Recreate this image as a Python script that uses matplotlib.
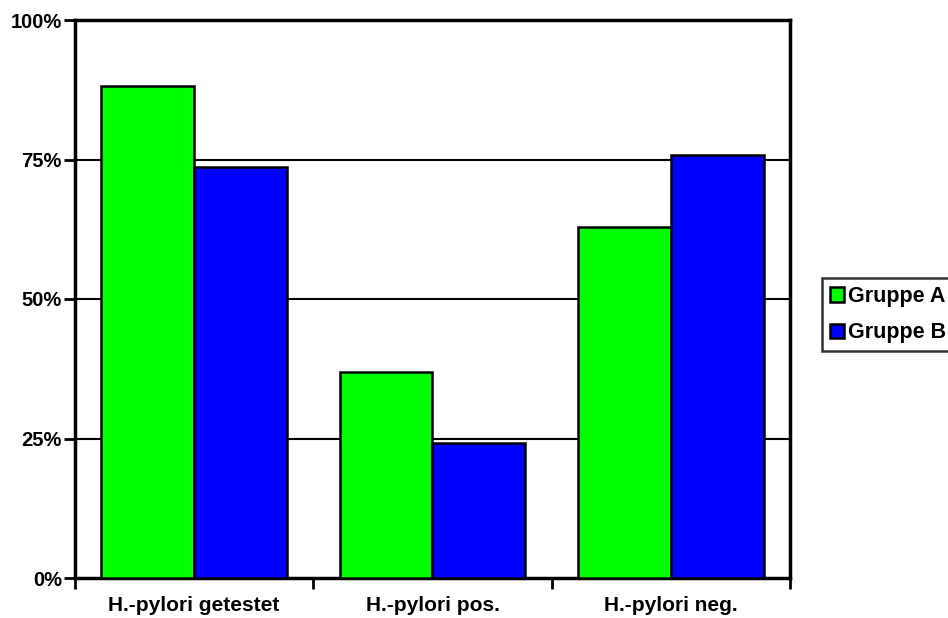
import matplotlib
matplotlib.use("Agg")
import matplotlib.pyplot as plt
import numpy as np
from matplotlib.ticker import PercentFormatter

categories = ["H.-pylori getestet", "H.-pylori pos.", "H.-pylori neg."]
gruppe_a = [88.2, 36.9, 62.9]
gruppe_b = [73.7, 24.2, 75.8]
series_names = ["Gruppe A", "Gruppe B"]
y_ticks = [0, 25, 50, 75, 100]

plt.rcParams["font.family"] = ["Liberation Sans", "DejaVu Sans"]
plt.rcParams["font.weight"] = "bold"

W, H = 948, 618
fig = plt.figure(figsize=(W / 100, H / 100), dpi=100)
ax = fig.add_axes([75 / W, 1 - 578 / H, (790 - 75) / W, (578 - 20) / H])

x = np.arange(len(categories))
bw = 0.39
ax.bar(x - bw / 2, gruppe_a, bw, color="#00ff00", edgecolor="black", linewidth=1.8,
       label=series_names[0], zorder=3)
ax.bar(x + bw / 2, gruppe_b, bw, color="#0000ff", edgecolor="black", linewidth=1.8,
       label=series_names[1], zorder=3)

ax.set_xlim(-0.5, len(categories) - 0.5)
ax.set_ylim(0, 100)
ax.set_yticks(y_ticks)
ax.yaxis.set_major_formatter(PercentFormatter(decimals=0))
for t in y_ticks[1:-1]:
    ax.axhline(t, color="black", linewidth=1.5, zorder=1)

# category labels centred, tick marks at category boundaries
ax.set_xticks(x)
ax.set_xticklabels(categories, fontsize=15, fontweight="bold")
ax.tick_params(axis="x", which="major", length=0, pad=13)
ax.set_xticks(np.arange(len(categories) + 1) - 0.5, minor=True)
ax.tick_params(axis="x", which="minor", length=8, width=2, direction="out")
ax.tick_params(axis="y", length=8, width=2, direction="out", labelsize=14.5, pad=1.5)
for lab in ax.get_yticklabels():
    lab.set_fontweight("bold")

for s in ax.spines.values():
    s.set_linewidth(2.5)
    s.set_color("black")

leg = fig.legend(loc="upper left", bbox_to_anchor=(822 / W, 1 - 278 / H),
                 fontsize=15.5, frameon=True, fancybox=False, edgecolor="black",
                 handlelength=0.65, handleheight=0.65, handletextpad=0.18,
                 borderpad=0.38, labelspacing=0.7, borderaxespad=0)
leg.get_frame().set_linewidth(1.8)
for t in leg.get_texts():
    t.set_fontweight("bold")

fig.savefig("out.png", dpi=100)
